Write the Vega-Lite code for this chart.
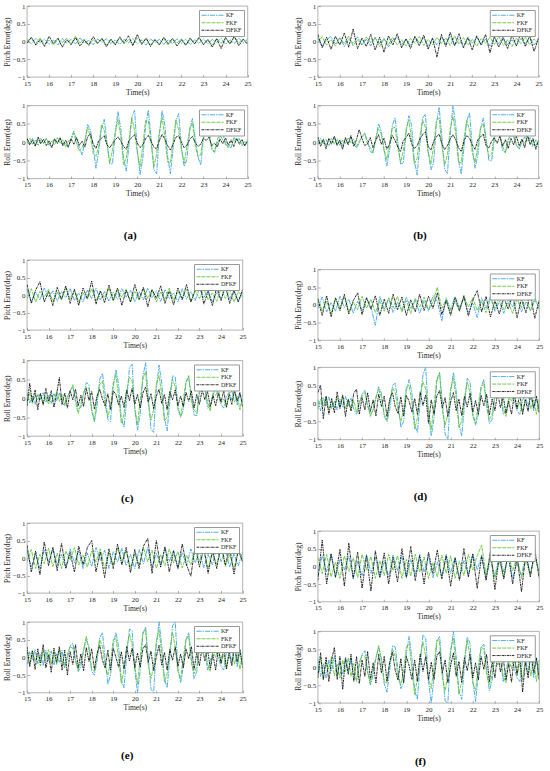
{
  "$schema": "https://vega.github.io/schema/vega-lite/v6.json",
  "background": "white",
  "padding": {"left": 3, "top": 1, "right": 2, "bottom": 2},
  "spacing": 41.8,
  "resolve": {"scale": {"color": "independent", "strokeDash": "independent"}},
  "hconcat": [
    {
      "spacing": 14,
      "resolve": {"scale": {"color": "independent", "strokeDash": "independent"}},
      "vconcat": [
        {
          "title": {"text": "(a)", "offset": 32.5, "dx": 3},
          "spacing": 4.5,
          "resolve": {"scale": {"color": "independent", "strokeDash": "independent"}},
          "vconcat": [
            {"width": 220.6, "height": 71, "data": {"name": "aP"}, "transform": [{"fold": ["k", "f", "d"], "as": ["s", "v"]}], "mark": {"type": "line", "clip": true},
             "encoding": {"x": {"field": "t", "type": "quantitative", "scale": {"domain": [15, 25]}, "title": "Time(s)"}, "y": {"field": "v", "type": "quantitative", "scale": {"domain": [-1, 1]}, "axis": {"format": "~g"}, "title": "Pitch Error(deg)"},
              "color": {"field": "s", "type": "nominal", "scale": {"domain": ["k", "f", "d"], "range": ["#3aa6e8", "#62c832", "#111111"]}, "legend": {"title": null, "labelExpr": "datum.label=='k'?'KF':datum.label=='f'?'FKF':'DFKF'"}},
              "strokeDash": {"field": "s", "type": "nominal", "scale": {"domain": ["k", "f", "d"], "range": [[5, 1, 1.5, 1], [4, 1], [2.5, 0.7, 1, 0.7]]}, "legend": {"title": null, "labelExpr": "datum.label=='k'?'KF':datum.label=='f'?'FKF':'DFKF'"}}}},
            {"width": 220.6, "height": 73, "data": {"name": "aR"}, "transform": [{"fold": ["k", "f", "d"], "as": ["s", "v"]}], "mark": {"type": "line", "clip": true},
             "encoding": {"x": {"field": "t", "type": "quantitative", "scale": {"domain": [15, 25]}, "title": "Time(s)"}, "y": {"field": "v", "type": "quantitative", "scale": {"domain": [-1, 1]}, "axis": {"format": "~g"}, "title": "Roll Error(deg)"},
              "color": {"field": "s", "type": "nominal", "scale": {"domain": ["k", "f", "d"], "range": ["#3aa6e8", "#62c832", "#111111"]}, "legend": {"title": null, "labelExpr": "datum.label=='k'?'KF':datum.label=='f'?'FKF':'DFKF'"}},
              "strokeDash": {"field": "s", "type": "nominal", "scale": {"domain": ["k", "f", "d"], "range": [[5, 1, 1.5, 1], [4, 1], [2.5, 0.7, 1, 0.7]]}, "legend": {"title": null, "labelExpr": "datum.label=='k'?'KF':datum.label=='f'?'FKF':'DFKF'"}}}}
          ]
        },
        {
          "title": {"text": "(c)", "offset": 38, "dx": 2.5},
          "spacing": 6.5,
          "resolve": {"scale": {"color": "independent", "strokeDash": "independent"}},
          "vconcat": [
            {"width": 215.6, "height": 70, "data": {"name": "cP"}, "transform": [{"fold": ["k", "f", "d"], "as": ["s", "v"]}], "mark": {"type": "line", "clip": true},
             "encoding": {"x": {"field": "t", "type": "quantitative", "scale": {"domain": [15, 25]}, "title": "Time(s)"}, "y": {"field": "v", "type": "quantitative", "scale": {"domain": [-1, 1]}, "axis": {"format": "~g"}, "title": "Pitch Error(deg)"},
              "color": {"field": "s", "type": "nominal", "scale": {"domain": ["k", "f", "d"], "range": ["#3aa6e8", "#62c832", "#111111"]}, "legend": {"title": null, "labelExpr": "datum.label=='k'?'KF':datum.label=='f'?'FKF':'DFKF'"}},
              "strokeDash": {"field": "s", "type": "nominal", "scale": {"domain": ["k", "f", "d"], "range": [[5, 1, 1.5, 1], [4, 1], [2.5, 0.7, 1, 0.7]]}, "legend": {"title": null, "labelExpr": "datum.label=='k'?'KF':datum.label=='f'?'FKF':'DFKF'"}}}},
            {"width": 215.6, "height": 75.6, "data": {"name": "cR"}, "transform": [{"fold": ["k", "f", "d"], "as": ["s", "v"]}], "mark": {"type": "line", "clip": true},
             "encoding": {"x": {"field": "t", "type": "quantitative", "scale": {"domain": [15, 25]}, "title": "Time(s)"}, "y": {"field": "v", "type": "quantitative", "scale": {"domain": [-1, 1]}, "axis": {"format": "~g"}, "title": "Roll Error(deg)"},
              "color": {"field": "s", "type": "nominal", "scale": {"domain": ["k", "f", "d"], "range": ["#3aa6e8", "#62c832", "#111111"]}, "legend": {"title": null, "labelExpr": "datum.label=='k'?'KF':datum.label=='f'?'FKF':'DFKF'"}},
              "strokeDash": {"field": "s", "type": "nominal", "scale": {"domain": ["k", "f", "d"], "range": [[5, 1, 1.5, 1], [4, 1], [2.5, 0.7, 1, 0.7]]}, "legend": {"title": null, "labelExpr": "datum.label=='k'?'KF':datum.label=='f'?'FKF':'DFKF'"}}}}
          ]
        },
        {
          "title": {"text": "(e)", "offset": 38, "dx": 2.5},
          "spacing": 5,
          "resolve": {"scale": {"color": "independent", "strokeDash": "independent"}},
          "vconcat": [
            {"width": 215.6, "height": 70, "data": {"name": "eP"}, "transform": [{"fold": ["k", "f", "d"], "as": ["s", "v"]}], "mark": {"type": "line", "clip": true},
             "encoding": {"x": {"field": "t", "type": "quantitative", "scale": {"domain": [15, 25]}, "title": "Time(s)"}, "y": {"field": "v", "type": "quantitative", "scale": {"domain": [-1, 1]}, "axis": {"format": "~g"}, "title": "Pitch Error(deg)"},
              "color": {"field": "s", "type": "nominal", "scale": {"domain": ["k", "f", "d"], "range": ["#3aa6e8", "#62c832", "#111111"]}, "legend": {"title": null, "labelExpr": "datum.label=='k'?'KF':datum.label=='f'?'FKF':'DFKF'"}},
              "strokeDash": {"field": "s", "type": "nominal", "scale": {"domain": ["k", "f", "d"], "range": [[5, 1, 1.5, 1], [4, 1], [2.5, 0.7, 1, 0.7]]}, "legend": {"title": null, "labelExpr": "datum.label=='k'?'KF':datum.label=='f'?'FKF':'DFKF'"}}}},
            {"width": 215.6, "height": 70.7, "data": {"name": "eR"}, "transform": [{"fold": ["k", "f", "d"], "as": ["s", "v"]}], "mark": {"type": "line", "clip": true},
             "encoding": {"x": {"field": "t", "type": "quantitative", "scale": {"domain": [15, 25]}, "title": "Time(s)"}, "y": {"field": "v", "type": "quantitative", "scale": {"domain": [-1, 1]}, "axis": {"format": "~g"}, "title": "Roll Error(deg)"},
              "color": {"field": "s", "type": "nominal", "scale": {"domain": ["k", "f", "d"], "range": ["#3aa6e8", "#62c832", "#111111"]}, "legend": {"title": null, "labelExpr": "datum.label=='k'?'KF':datum.label=='f'?'FKF':'DFKF'"}},
              "strokeDash": {"field": "s", "type": "nominal", "scale": {"domain": ["k", "f", "d"], "range": [[5, 1, 1.5, 1], [4, 1], [2.5, 0.7, 1, 0.7]]}, "legend": {"title": null, "labelExpr": "datum.label=='k'?'KF':datum.label=='f'?'FKF':'DFKF'"}}}}
          ]
        }
      ]
    },
    {
      "spacing": 23.5,
      "resolve": {"scale": {"color": "independent", "strokeDash": "independent"}},
      "vconcat": [
        {
          "title": {"text": "(b)", "offset": 32.5, "dx": 2},
          "spacing": 4.5,
          "resolve": {"scale": {"color": "independent", "strokeDash": "independent"}},
          "vconcat": [
            {"width": 220.7, "height": 71, "data": {"name": "bP"}, "transform": [{"fold": ["k", "f", "d"], "as": ["s", "v"]}], "mark": {"type": "line", "clip": true},
             "encoding": {"x": {"field": "t", "type": "quantitative", "scale": {"domain": [15, 25]}, "title": "Time(s)"}, "y": {"field": "v", "type": "quantitative", "scale": {"domain": [-1, 1]}, "axis": {"format": "~g"}, "title": "Pitch Error(deg)"},
              "color": {"field": "s", "type": "nominal", "scale": {"domain": ["k", "f", "d"], "range": ["#3aa6e8", "#62c832", "#111111"]}, "legend": {"title": null, "labelExpr": "datum.label=='k'?'KF':datum.label=='f'?'FKF':'DFKF'"}},
              "strokeDash": {"field": "s", "type": "nominal", "scale": {"domain": ["k", "f", "d"], "range": [[5, 1, 1.5, 1], [4, 1], [2.5, 0.7, 1, 0.7]]}, "legend": {"title": null, "labelExpr": "datum.label=='k'?'KF':datum.label=='f'?'FKF':'DFKF'"}}}},
            {"width": 220.7, "height": 73, "data": {"name": "bR"}, "transform": [{"fold": ["k", "f", "d"], "as": ["s", "v"]}], "mark": {"type": "line", "clip": true},
             "encoding": {"x": {"field": "t", "type": "quantitative", "scale": {"domain": [15, 25]}, "title": "Time(s)"}, "y": {"field": "v", "type": "quantitative", "scale": {"domain": [-1, 1]}, "axis": {"format": "~g"}, "title": "Roll Error(deg)"},
              "color": {"field": "s", "type": "nominal", "scale": {"domain": ["k", "f", "d"], "range": ["#3aa6e8", "#62c832", "#111111"]}, "legend": {"title": null, "labelExpr": "datum.label=='k'?'KF':datum.label=='f'?'FKF':'DFKF'"}},
              "strokeDash": {"field": "s", "type": "nominal", "scale": {"domain": ["k", "f", "d"], "range": [[5, 1, 1.5, 1], [4, 1], [2.5, 0.7, 1, 0.7]]}, "legend": {"title": null, "labelExpr": "datum.label=='k'?'KF':datum.label=='f'?'FKF':'DFKF'"}}}}
          ]
        },
        {
          "title": {"text": "(d)", "offset": 33, "dx": 2},
          "spacing": 2.8,
          "resolve": {"scale": {"color": "independent", "strokeDash": "independent"}},
          "vconcat": [
            {"width": 221.4, "height": 70.7, "data": {"name": "dP"}, "transform": [{"fold": ["k", "f", "d"], "as": ["s", "v"]}], "mark": {"type": "line", "clip": true},
             "encoding": {"x": {"field": "t", "type": "quantitative", "scale": {"domain": [15, 25]}, "title": "Time(s)"}, "y": {"field": "v", "type": "quantitative", "scale": {"domain": [-1, 1]}, "axis": {"format": "~g"}, "title": "Pitch Error(deg)"},
              "color": {"field": "s", "type": "nominal", "scale": {"domain": ["k", "f", "d"], "range": ["#3aa6e8", "#62c832", "#111111"]}, "legend": {"title": null, "labelExpr": "datum.label=='k'?'KF':datum.label=='f'?'FKF':'DFKF'"}},
              "strokeDash": {"field": "s", "type": "nominal", "scale": {"domain": ["k", "f", "d"], "range": [[5, 1, 1.5, 1], [4, 1], [2.5, 0.7, 1, 0.7]]}, "legend": {"title": null, "labelExpr": "datum.label=='k'?'KF':datum.label=='f'?'FKF':'DFKF'"}}}},
            {"width": 221.4, "height": 72.3, "data": {"name": "dR"}, "transform": [{"fold": ["k", "f", "d"], "as": ["s", "v"]}], "mark": {"type": "line", "clip": true},
             "encoding": {"x": {"field": "t", "type": "quantitative", "scale": {"domain": [15, 25]}, "title": "Time(s)"}, "y": {"field": "v", "type": "quantitative", "scale": {"domain": [-1, 1]}, "axis": {"format": "~g"}, "title": "Roll Error(deg)"},
              "color": {"field": "s", "type": "nominal", "scale": {"domain": ["k", "f", "d"], "range": ["#3aa6e8", "#62c832", "#111111"]}, "legend": {"title": null, "labelExpr": "datum.label=='k'?'KF':datum.label=='f'?'FKF':'DFKF'"}},
              "strokeDash": {"field": "s", "type": "nominal", "scale": {"domain": ["k", "f", "d"], "range": [[5, 1, 1.5, 1], [4, 1], [2.5, 0.7, 1, 0.7]]}, "legend": {"title": null, "labelExpr": "datum.label=='k'?'KF':datum.label=='f'?'FKF':'DFKF'"}}}}
          ]
        },
        {
          "title": {"text": "(f)", "offset": 34, "dx": 2},
          "spacing": 5.3,
          "resolve": {"scale": {"color": "independent", "strokeDash": "independent"}},
          "vconcat": [
            {"width": 221.4, "height": 70.7, "data": {"name": "fP"}, "transform": [{"fold": ["k", "f", "d"], "as": ["s", "v"]}], "mark": {"type": "line", "clip": true},
             "encoding": {"x": {"field": "t", "type": "quantitative", "scale": {"domain": [15, 25]}, "title": "Time(s)"}, "y": {"field": "v", "type": "quantitative", "scale": {"domain": [-1, 1]}, "axis": {"format": "~g"}, "title": "Pitch Error(deg)"},
              "color": {"field": "s", "type": "nominal", "scale": {"domain": ["k", "f", "d"], "range": ["#3aa6e8", "#62c832", "#111111"]}, "legend": {"title": null, "labelExpr": "datum.label=='k'?'KF':datum.label=='f'?'FKF':'DFKF'"}},
              "strokeDash": {"field": "s", "type": "nominal", "scale": {"domain": ["k", "f", "d"], "range": [[5, 1, 1.5, 1], [4, 1], [2.5, 0.7, 1, 0.7]]}, "legend": {"title": null, "labelExpr": "datum.label=='k'?'KF':datum.label=='f'?'FKF':'DFKF'"}}}},
            {"width": 221.4, "height": 71.7, "data": {"name": "fR"}, "transform": [{"fold": ["k", "f", "d"], "as": ["s", "v"]}], "mark": {"type": "line", "clip": true},
             "encoding": {"x": {"field": "t", "type": "quantitative", "scale": {"domain": [15, 25]}, "title": "Time(s)"}, "y": {"field": "v", "type": "quantitative", "scale": {"domain": [-1, 1]}, "axis": {"format": "~g"}, "title": "Roll Error(deg)"},
              "color": {"field": "s", "type": "nominal", "scale": {"domain": ["k", "f", "d"], "range": ["#3aa6e8", "#62c832", "#111111"]}, "legend": {"title": null, "labelExpr": "datum.label=='k'?'KF':datum.label=='f'?'FKF':'DFKF'"}},
              "strokeDash": {"field": "s", "type": "nominal", "scale": {"domain": ["k", "f", "d"], "range": [[5, 1, 1.5, 1], [4, 1], [2.5, 0.7, 1, 0.7]]}, "legend": {"title": null, "labelExpr": "datum.label=='k'?'KF':datum.label=='f'?'FKF':'DFKF'"}}}}
          ]
        }
      ]
    }
  ],
  "datasets": {
    "aP": [
      {"t":15,"k":0.05,"f":0.02,"d":-0.04},{"t":15.2,"k":-0.06,"f":0.08,"d":0.12},{"t":15.4,"k":0.09,"f":-0.05,"d":-0.1},{"t":15.6,"k":-0.03,"f":0.1,"d":0.06},{"t":15.8,"k":0.07,"f":-0.08,"d":-0.14},
      {"t":16,"k":-0.08,"f":0.04,"d":0.15},{"t":16.2,"k":0.04,"f":-0.1,"d":-0.06},{"t":16.4,"k":-0.1,"f":0.06,"d":0.1},{"t":16.6,"k":0.08,"f":-0.03,"d":-0.16},{"t":16.8,"k":-0.04,"f":0.09,"d":0.05},
      {"t":17,"k":0.06,"f":-0.07,"d":-0.09},{"t":17.2,"k":-0.07,"f":0.15,"d":0.11},{"t":17.4,"k":0.1,"f":-0.04,"d":-0.13},{"t":17.6,"k":-0.05,"f":0.07,"d":0.04},{"t":17.8,"k":0.03,"f":-0.09,"d":-0.11},
      {"t":18,"k":-0.09,"f":0.05,"d":0.14},{"t":18.2,"k":0.07,"f":-0.06,"d":-0.05},{"t":18.4,"k":-0.02,"f":0.08,"d":0.09},{"t":18.6,"k":0.08,"f":-0.1,"d":-0.15},{"t":18.8,"k":-0.06,"f":0.03,"d":0.07},
      {"t":19,"k":0.05,"f":-0.05,"d":-0.1},{"t":19.2,"k":-0.08,"f":0.09,"d":0.13},{"t":19.4,"k":0.06,"f":-0.07,"d":-0.04},{"t":19.6,"k":-0.04,"f":0.05,"d":0.16},{"t":19.8,"k":0.09,"f":-0.08,"d":-0.12},
      {"t":20,"k":-0.07,"f":0.1,"d":0.2},{"t":20.2,"k":0.04,"f":-0.04,"d":-0.08},{"t":20.4,"k":-0.1,"f":0.06,"d":0.1},{"t":20.6,"k":0.07,"f":-0.09,"d":-0.14},{"t":20.8,"k":-0.03,"f":0.04,"d":0.06},
      {"t":21,"k":0.06,"f":-0.06,"d":-0.1},{"t":21.2,"k":-0.08,"f":0.08,"d":0.12},{"t":21.4,"k":0.05,"f":-0.1,"d":-0.06},{"t":21.6,"k":-0.06,"f":0.05,"d":0.09},{"t":21.8,"k":0.08,"f":-0.04,"d":-0.13},
      {"t":22,"k":-0.04,"f":0.07,"d":0.05},{"t":22.2,"k":0.07,"f":-0.08,"d":-0.11},{"t":22.4,"k":-0.09,"f":0.06,"d":0.1},{"t":22.6,"k":0.05,"f":-0.05,"d":-0.07},{"t":22.8,"k":-0.05,"f":0.09,"d":0.12},
      {"t":23,"k":0.08,"f":-0.07,"d":-0.09},{"t":23.2,"k":-0.07,"f":0.04,"d":0.06},{"t":23.4,"k":0.06,"f":-0.1,"d":-0.16},{"t":23.6,"k":-0.03,"f":0.08,"d":0.08},{"t":23.8,"k":0.09,"f":-0.05,"d":-0.2},
      {"t":24,"k":-0.08,"f":0.1,"d":0.11},{"t":24.2,"k":0.05,"f":-0.06,"d":-0.07},{"t":24.4,"k":-0.06,"f":0.12,"d":0.15},{"t":24.6,"k":0.1,"f":-0.04,"d":-0.12},{"t":24.8,"k":-0.04,"f":0.07,"d":0.06},
      {"t":25,"k":0.06,"f":-0.05,"d":-0.08}
    ],
    "aR": [
      {"t":15,"k":0.08,"f":-0.03,"d":0.1},{"t":15.125,"k":-0.03,"f":0.1,"d":-0.08},{"t":15.25,"k":0.1,"f":-0.06,"d":0.05},{"t":15.375,"k":-0.08,"f":0.05,"d":-0.12},
      {"t":15.5,"k":0.04,"f":-0.09,"d":0.14},{"t":15.625,"k":0.1,"f":0.06,"d":-0.05},{"t":15.75,"k":-0.04,"f":-0.03,"d":0.08},{"t":15.875,"k":0.09,"f":0.1,"d":-0.1},
      {"t":16,"k":-0.09,"f":-0.06,"d":0.03},{"t":16.125,"k":0.01,"f":0.03,"d":-0.16},{"t":16.25,"k":0.08,"f":-0.08,"d":0.09},{"t":16.375,"k":-0.03,"f":0.12,"d":-0.04},
      {"t":16.5,"k":0.12,"f":-0.03,"d":0.11},{"t":16.625,"k":-0.09,"f":0.06,"d":-0.1},{"t":16.75,"k":-0.04,"f":-0.14,"d":0.05},{"t":16.875,"k":-0.15,"f":0.03,"d":-0.13},
      {"t":17,"k":0.13,"f":0.06,"d":0.08},{"t":17.125,"k":0.3,"f":0.24,"d":-0.06},{"t":17.25,"k":0.06,"f":-0.05,"d":0.12},{"t":17.375,"k":-0.17,"f":-0.25,"d":-0.09},
      {"t":17.5,"k":-0.36,"f":-0.15,"d":0.02},{"t":17.625,"k":0.04,"f":0.03,"d":-0.14},{"t":17.75,"k":0.48,"f":0.4,"d":0.15},{"t":17.875,"k":0.32,"f":0.15,"d":0.22},
      {"t":18,"k":-0.12,"f":-0.31,"d":-0.05},{"t":18.125,"k":-0.72,"f":-0.39,"d":-0.18},{"t":18.25,"k":-0.25,"f":-0.12,"d":0.04},{"t":18.375,"k":0.36,"f":0.48,"d":0.1},
      {"t":18.5,"k":0.62,"f":0.32,"d":0.17},{"t":18.625,"k":0,"f":-0.05,"d":-0.08},{"t":18.75,"k":-0.6,"f":-0.57,"d":-0.16},{"t":18.875,"k":-0.6,"f":-0.21,"d":-0.04},
      {"t":19,"k":0.24,"f":0.26,"d":0.06},{"t":19.125,"k":0.83,"f":0.62,"d":0.14},{"t":19.25,"k":0.37,"f":0.17,"d":0.03},{"t":19.375,"k":-0.42,"f":-0.62,"d":-0.12},
      {"t":19.5,"k":-0.8,"f":-0.44,"d":-0.2},{"t":19.625,"k":-0.08,"f":0.05,"d":0.05},{"t":19.75,"k":0.67,"f":0.66,"d":0.12},{"t":19.875,"k":0.87,"f":0.32,"d":0.2},
      {"t":20,"k":-0.23,"f":-0.29,"d":-0.03},{"t":20.125,"k":-0.9,"f":-0.68,"d":-0.15},{"t":20.25,"k":-0.44,"f":-0.11,"d":-0.08},{"t":20.375,"k":0.43,"f":0.59,"d":0.09},
      {"t":20.5,"k":0.87,"f":0.58,"d":0.18},{"t":20.625,"k":0.12,"f":-0.03,"d":0.02},{"t":20.75,"k":-0.75,"f":-0.67,"d":-0.14},{"t":20.875,"k":-0.87,"f":-0.34,"d":-0.19},
      {"t":21,"k":0.2,"f":0.26,"d":0.04},{"t":21.125,"k":0.86,"f":0.68,"d":0.21},{"t":21.25,"k":0.46,"f":0.12,"d":0.07},{"t":21.375,"k":-0.4,"f":-0.55,"d":-0.1},
      {"t":21.5,"k":-0.87,"f":-0.58,"d":-0.22},{"t":21.625,"k":-0.15,"f":0.01,"d":-0.05},{"t":21.75,"k":0.57,"f":0.61,"d":0.13},{"t":21.875,"k":0.78,"f":0.33,"d":0.17},
      {"t":22,"k":-0.14,"f":-0.2,"d":0},{"t":22.125,"k":-0.67,"f":-0.58,"d":-0.16},{"t":22.25,"k":-0.47,"f":-0.11,"d":-0.09},{"t":22.375,"k":0.36,"f":0.32,"d":0.07},
      {"t":22.5,"k":0.64,"f":0.53,"d":0.15},{"t":22.625,"k":0.12,"f":-0.08,"d":-0.02},{"t":22.75,"k":-0.41,"f":-0.4,"d":-0.12},{"t":22.875,"k":-0.63,"f":-0.35,"d":-0.06},
      {"t":23,"k":0.1,"f":0.19,"d":0.1},{"t":23.125,"k":0.35,"f":0.27,"d":0.04},{"t":23.25,"k":0.31,"f":0.18,"d":0.13},{"t":23.375,"k":-0.21,"f":-0.15,"d":-0.1},
      {"t":23.5,"k":-0.28,"f":-0.28,"d":-0.03},{"t":23.625,"k":-0.03,"f":0.06,"d":-0.14},{"t":23.75,"k":0.13,"f":0.22,"d":0.08},{"t":23.875,"k":0.27,"f":0.04,"d":-0.05},
      {"t":24,"k":-0.08,"f":0.02,"d":0.11},{"t":24.125,"k":-0.11,"f":-0.17,"d":-0.08},{"t":24.25,"k":-0.16,"f":0.02,"d":0.06},{"t":24.375,"k":0.12,"f":0,"d":-0.12},
      {"t":24.5,"k":0.06,"f":0.12,"d":0.09},{"t":24.625,"k":0.09,"f":-0.07,"d":-0.04},{"t":24.75,"k":-0.1,"f":-0.01,"d":0.07},{"t":24.875,"k":0.02,"f":-0.09,"d":-0.11},
      {"t":25,"k":-0.06,"f":0.07,"d":0.03}
    ],
    "bP": [
      {"t":15,"k":0.1,"f":-0.05,"d":0.2},{"t":15.2,"k":-0.12,"f":0.14,"d":-0.18},{"t":15.4,"k":0.05,"f":-0.1,"d":0.12},{"t":15.6,"k":0.14,"f":0.06,"d":-0.22},{"t":15.8,"k":-0.08,"f":-0.13,"d":0.15},
      {"t":16,"k":0.11,"f":0.1,"d":-0.1},{"t":16.2,"k":-0.14,"f":-0.06,"d":0.24},{"t":16.4,"k":0.07,"f":0.15,"d":-0.16},{"t":16.6,"k":-0.05,"f":-0.12,"d":0.35},{"t":16.8,"k":0.13,"f":0.05,"d":-0.2},
      {"t":17,"k":-0.1,"f":-0.09,"d":0.1},{"t":17.2,"k":0.06,"f":0.13,"d":-0.14},{"t":17.4,"k":-0.13,"f":-0.04,"d":0.2},{"t":17.6,"k":0.12,"f":0.1,"d":-0.24},{"t":17.8,"k":-0.06,"f":-0.14,"d":0.12},
      {"t":18,"k":0.09,"f":0.07,"d":-0.3},{"t":18.2,"k":-0.15,"f":-0.08,"d":0.16},{"t":18.4,"k":0.04,"f":0.12,"d":-0.1},{"t":18.6,"k":0.12,"f":-0.1,"d":0.22},{"t":18.8,"k":-0.09,"f":0.05,"d":-0.18},
      {"t":19,"k":0.06,"f":-0.13,"d":0.08},{"t":19.2,"k":-0.12,"f":0.09,"d":-0.2},{"t":19.4,"k":0.14,"f":-0.05,"d":0.14},{"t":19.6,"k":-0.04,"f":0.14,"d":-0.12},{"t":19.8,"k":0.1,"f":-0.11,"d":0.18},
      {"t":20,"k":-0.13,"f":0.06,"d":-0.22},{"t":20.2,"k":0.08,"f":-0.09,"d":0.1},{"t":20.4,"k":-0.1,"f":0.12,"d":-0.44},{"t":20.6,"k":0.13,"f":-0.06,"d":0.2},{"t":20.8,"k":-0.07,"f":0.1,"d":-0.14},
      {"t":21,"k":0.15,"f":-0.12,"d":0.26},{"t":21.2,"k":-0.11,"f":0.16,"d":-0.12},{"t":21.4,"k":0.06,"f":-0.07,"d":0.22},{"t":21.6,"k":-0.14,"f":0.11,"d":-0.18},{"t":21.8,"k":0.1,"f":-0.1,"d":0.12},
      {"t":22,"k":-0.05,"f":0.06,"d":-0.24},{"t":22.2,"k":0.12,"f":-0.13,"d":0.16},{"t":22.4,"k":-0.09,"f":0.09,"d":-0.1},{"t":22.6,"k":0.07,"f":-0.05,"d":0.2},{"t":22.8,"k":-0.13,"f":0.12,"d":-0.32},
      {"t":23,"k":0.11,"f":-0.08,"d":0.14},{"t":23.2,"k":-0.06,"f":0.14,"d":-0.16},{"t":23.4,"k":0.14,"f":-0.11,"d":0.1},{"t":23.6,"k":-0.1,"f":0.05,"d":-0.2},{"t":23.8,"k":0.05,"f":-0.14,"d":0.18},
      {"t":24,"k":-0.12,"f":0.1,"d":-0.12},{"t":24.2,"k":0.09,"f":-0.06,"d":0.24},{"t":24.4,"k":-0.07,"f":0.13,"d":-0.14},{"t":24.6,"k":0.13,"f":-0.09,"d":0.16},{"t":24.8,"k":-0.1,"f":0.07,"d":-0.28},
      {"t":25,"k":0.06,"f":-0.04,"d":0.1}
    ],
    "bR": [
      {"t":15,"k":-0.08,"f":0.06,"d":0.14},{"t":15.125,"k":0.1,"f":-0.05,"d":-0.12},{"t":15.25,"k":-0.04,"f":0.09,"d":0.06},{"t":15.375,"k":0.07,"f":-0.1,"d":-0.18},
      {"t":15.5,"k":-0.11,"f":0.04,"d":0.1},{"t":15.625,"k":0.05,"f":0.1,"d":-0.06},{"t":15.75,"k":0.12,"f":-0.06,"d":0.16},{"t":15.875,"k":-0.06,"f":0.08,"d":-0.1},
      {"t":16,"k":0.06,"f":-0.09,"d":0.04},{"t":16.125,"k":-0.1,"f":0.05,"d":-0.2},{"t":16.25,"k":0.08,"f":-0.04,"d":0.12},{"t":16.375,"k":-0.03,"f":0.11,"d":-0.08},
      {"t":16.5,"k":0.14,"f":-0.02,"d":0.18},{"t":16.625,"k":-0.05,"f":0.08,"d":-0.12},{"t":16.75,"k":-0.16,"f":-0.12,"d":0.06},{"t":16.875,"k":-0.04,"f":0.02,"d":0.34},
      {"t":17,"k":0.16,"f":0.14,"d":0.1},{"t":17.125,"k":0.22,"f":0.25,"d":-0.1},{"t":17.25,"k":0.05,"f":-0.06,"d":-0.05},{"t":17.375,"k":-0.26,"f":-0.15,"d":0.12},
      {"t":17.5,"k":-0.3,"f":-0.28,"d":-0.15},{"t":17.625,"k":0.06,"f":0.12,"d":0.04},{"t":17.75,"k":0.5,"f":0.36,"d":0.2},{"t":17.875,"k":0.3,"f":0.22,"d":-0.06},
      {"t":18,"k":-0.22,"f":-0.2,"d":0.1},{"t":18.125,"k":-0.66,"f":-0.48,"d":-0.2},{"t":18.25,"k":-0.24,"f":-0.02,"d":-0.06},{"t":18.375,"k":0.45,"f":0.38,"d":0.18},
      {"t":18.5,"k":0.66,"f":0.4,"d":0.05},{"t":18.625,"k":0.02,"f":-0.16,"d":-0.14},{"t":18.75,"k":-0.6,"f":-0.55,"d":-0.26},{"t":18.875,"k":-0.58,"f":-0.24,"d":0.04},
      {"t":19,"k":0.26,"f":0.35,"d":0.12},{"t":19.125,"k":0.72,"f":0.6,"d":0.24},{"t":19.25,"k":0.46,"f":0.06,"d":-0.04},{"t":19.375,"k":-0.52,"f":-0.6,"d":-0.18},
      {"t":19.5,"k":-0.9,"f":-0.45,"d":-0.1},{"t":19.625,"k":-0.08,"f":0.16,"d":0.08},{"t":19.75,"k":0.66,"f":0.6,"d":0.2},{"t":19.875,"k":0.76,"f":0.4,"d":0.28},
      {"t":20,"k":-0.24,"f":-0.3,"d":-0.12},{"t":20.125,"k":-0.76,"f":-0.6,"d":-0.22},{"t":20.25,"k":-0.55,"f":-0.1,"d":0.02},{"t":20.375,"k":0.52,"f":0.58,"d":0.14},
      {"t":20.5,"k":0.95,"f":0.66,"d":0.22},{"t":20.625,"k":0.12,"f":-0.12,"d":-0.06},{"t":20.75,"k":-0.75,"f":-0.62,"d":-0.2},{"t":20.875,"k":-0.86,"f":-0.35,"d":-0.1},
      {"t":21,"k":0.2,"f":0.36,"d":0.08},{"t":21.125,"k":1,"f":0.7,"d":0.2},{"t":21.25,"k":0.45,"f":0.24,"d":0.06},{"t":21.375,"k":-0.5,"f":-0.55,"d":-0.16},
      {"t":21.5,"k":-0.88,"f":-0.58,"d":-0.26},{"t":21.625,"k":-0.14,"f":0.1,"d":0.04},{"t":21.75,"k":0.58,"f":0.6,"d":0.18},{"t":21.875,"k":0.8,"f":0.32,"d":0.1},
      {"t":22,"k":-0.12,"f":-0.3,"d":-0.08},{"t":22.125,"k":-0.72,"f":-0.56,"d":-0.2},{"t":22.25,"k":-0.36,"f":-0.12,"d":0.06},{"t":22.375,"k":0.36,"f":0.4,"d":0.14},
      {"t":22.5,"k":0.66,"f":0.5,"d":0.22},{"t":22.625,"k":0.1,"f":0.02,"d":-0.1},{"t":22.75,"k":-0.5,"f":-0.4,"d":-0.16},{"t":22.875,"k":-0.52,"f":-0.34,"d":0.02},
      {"t":23,"k":0.08,"f":0.2,"d":0.12},{"t":23.125,"k":0.42,"f":0.26,"d":-0.04},{"t":23.25,"k":0.2,"f":0.16,"d":0.16},{"t":23.375,"k":-0.24,"f":-0.12,"d":-0.12},
      {"t":23.5,"k":-0.28,"f":-0.3,"d":0.06},{"t":23.625,"k":0.02,"f":0.08,"d":-0.18},{"t":23.75,"k":0.24,"f":0.16,"d":0.1},{"t":23.875,"k":0.14,"f":0.2,"d":-0.08},
      {"t":24,"k":-0.1,"f":-0.08,"d":0.16},{"t":24.125,"k":-0.2,"f":-0.16,"d":-0.1},{"t":24.25,"k":0,"f":0.06,"d":0.08},{"t":24.375,"k":0.14,"f":-0.04,"d":-0.16},
      {"t":24.5,"k":0.02,"f":0.14,"d":0.2},{"t":24.625,"k":0.12,"f":-0.08,"d":-0.06},{"t":24.75,"k":-0.12,"f":0.04,"d":0.1},{"t":24.875,"k":0.06,"f":-0.12,"d":-0.2},
      {"t":25,"k":-0.08,"f":0.06,"d":0.04}
    ],
    "cP": [
      {"t":15,"k":0.16,"f":-0.12,"d":0.3},{"t":15.2,"k":-0.2,"f":0.18,"d":-0.24},{"t":15.4,"k":0.08,"f":-0.2,"d":0.14},{"t":15.6,"k":-0.14,"f":0.1,"d":0.38},{"t":15.8,"k":0.2,"f":-0.06,"d":-0.2},
      {"t":16,"k":-0.06,"f":0.16,"d":0.1},{"t":16.2,"k":0.12,"f":-0.18,"d":-0.3},{"t":16.4,"k":-0.18,"f":0.08,"d":0.22},{"t":16.6,"k":0.1,"f":-0.14,"d":-0.12},{"t":16.8,"k":-0.08,"f":0.2,"d":0.26},
      {"t":17,"k":0.18,"f":-0.1,"d":-0.24},{"t":17.2,"k":-0.16,"f":0.14,"d":0.16},{"t":17.4,"k":0.06,"f":-0.2,"d":-0.3},{"t":17.6,"k":-0.2,"f":0.06,"d":0.2},{"t":17.8,"k":0.14,"f":-0.12,"d":-0.1},
      {"t":18,"k":-0.1,"f":0.18,"d":0.4},{"t":18.2,"k":0.2,"f":-0.16,"d":-0.26},{"t":18.4,"k":-0.14,"f":0.1,"d":0.12},{"t":18.6,"k":0.1,"f":-0.08,"d":-0.22},{"t":18.8,"k":-0.18,"f":0.2,"d":0.28},
      {"t":19,"k":0.08,"f":-0.18,"d":-0.14},{"t":19.2,"k":-0.12,"f":0.12,"d":0.2},{"t":19.4,"k":0.18,"f":-0.06,"d":-0.3},{"t":19.6,"k":-0.06,"f":0.16,"d":0.14},{"t":19.8,"k":0.14,"f":-0.2,"d":-0.2},
      {"t":20,"k":-0.2,"f":0.1,"d":0.3},{"t":20.2,"k":0.1,"f":-0.14,"d":-0.12},{"t":20.4,"k":-0.14,"f":0.18,"d":0.22},{"t":20.6,"k":0.2,"f":-0.1,"d":-0.34},{"t":20.8,"k":-0.08,"f":0.14,"d":0.16},
      {"t":21,"k":0.12,"f":-0.2,"d":-0.1},{"t":21.2,"k":-0.18,"f":0.08,"d":0.26},{"t":21.4,"k":0.16,"f":-0.12,"d":-0.24},{"t":21.6,"k":-0.1,"f":0.2,"d":0.12},{"t":21.8,"k":0.06,"f":-0.16,"d":-0.28},
      {"t":22,"k":-0.2,"f":0.1,"d":0.2},{"t":22.2,"k":0.18,"f":-0.08,"d":-0.14},{"t":22.4,"k":-0.12,"f":0.16,"d":0.3},{"t":22.6,"k":0.1,"f":-0.2,"d":-0.2},{"t":22.8,"k":-0.16,"f":0.12,"d":0.14},
      {"t":23,"k":0.2,"f":-0.1,"d":0.36},{"t":23.2,"k":-0.08,"f":0.18,"d":-0.26},{"t":23.4,"k":0.14,"f":-0.14,"d":0.1},{"t":23.6,"k":-0.2,"f":0.06,"d":-0.3},{"t":23.8,"k":0.08,"f":-0.18,"d":0.22},
      {"t":24,"k":-0.12,"f":0.2,"d":-0.16},{"t":24.2,"k":0.18,"f":-0.1,"d":0.28},{"t":24.4,"k":-0.1,"f":0.14,"d":-0.24},{"t":24.6,"k":0.12,"f":-0.2,"d":0.12},{"t":24.8,"k":-0.18,"f":0.1,"d":-0.2},
      {"t":25,"k":0.1,"f":-0.06,"d":0.16}
    ],
    "cR": [
      {"t":15,"k":0.14,"f":-0.1,"d":-0.2},{"t":15.125,"k":-0.12,"f":0.16,"d":0.4},{"t":15.25,"k":0.06,"f":-0.14,"d":-0.1},{"t":15.375,"k":-0.16,"f":0.08,"d":0.22},
      {"t":15.5,"k":0.1,"f":-0.04,"d":-0.3},{"t":15.625,"k":-0.04,"f":0.14,"d":0.12},{"t":15.75,"k":0.16,"f":-0.12,"d":-0.18},{"t":15.875,"k":-0.1,"f":0.06,"d":0.26},
      {"t":16,"k":0.08,"f":-0.16,"d":-0.08},{"t":16.125,"k":-0.14,"f":0.1,"d":0.2},{"t":16.25,"k":0.12,"f":-0.06,"d":-0.24},{"t":16.375,"k":-0.06,"f":0.18,"d":0.1},
      {"t":16.5,"k":0.14,"f":-0.08,"d":0.55},{"t":16.625,"k":-0.12,"f":0.1,"d":-0.16},{"t":16.75,"k":-0.2,"f":-0.18,"d":0.14},{"t":16.875,"k":0.02,"f":0.06,"d":-0.26},
      {"t":17,"k":0.2,"f":0.18,"d":0.2},{"t":17.125,"k":0.3,"f":0.36,"d":-0.04},{"t":17.25,"k":0,"f":-0.1,"d":0.24},{"t":17.375,"k":-0.3,"f":-0.4,"d":-0.2},
      {"t":17.5,"k":-0.24,"f":-0.14,"d":0.08},{"t":17.625,"k":0.1,"f":0.16,"d":-0.22},{"t":17.75,"k":0.42,"f":0.3,"d":0.26},{"t":17.875,"k":0.36,"f":0.26,"d":-0.06},
      {"t":18,"k":-0.26,"f":-0.36,"d":0.18},{"t":18.125,"k":-0.62,"f":-0.6,"d":-0.28},{"t":18.25,"k":-0.2,"f":0.04,"d":0.06},{"t":18.375,"k":0.5,"f":0.36,"d":0.24},
      {"t":18.5,"k":0.66,"f":0.46,"d":-0.02},{"t":18.625,"k":0.12,"f":-0.2,"d":-0.2},{"t":18.75,"k":-0.56,"f":-0.5,"d":0.12},{"t":18.875,"k":-0.62,"f":-0.2,"d":-0.3},
      {"t":19,"k":0.3,"f":0.4,"d":0.2},{"t":19.125,"k":0.76,"f":0.62,"d":0.1},{"t":19.25,"k":0.36,"f":0.04,"d":-0.18},{"t":19.375,"k":-0.54,"f":-0.66,"d":0.06},
      {"t":19.5,"k":-0.76,"f":-0.42,"d":-0.24},{"t":19.625,"k":-0.04,"f":0.2,"d":0.22},{"t":19.75,"k":0.8,"f":0.56,"d":-0.06},{"t":19.875,"k":0.9,"f":0.46,"d":0.26},
      {"t":20,"k":-0.3,"f":-0.24,"d":-0.16},{"t":20.125,"k":-0.84,"f":-0.7,"d":0.1},{"t":20.25,"k":-0.42,"f":-0.06,"d":-0.26},{"t":20.375,"k":0.58,"f":0.52,"d":0.14},
      {"t":20.5,"k":0.94,"f":0.7,"d":0.3},{"t":20.625,"k":0.06,"f":-0.16,"d":-0.1},{"t":20.75,"k":-0.82,"f":-0.58,"d":0.12},{"t":20.875,"k":-0.9,"f":-0.3,"d":-0.28},
      {"t":21,"k":0.26,"f":0.38,"d":0.06},{"t":21.125,"k":0.88,"f":0.6,"d":0.24},{"t":21.25,"k":0.4,"f":0.1,"d":-0.14},{"t":21.375,"k":-0.52,"f":-0.6,"d":0.1},
      {"t":21.5,"k":-0.86,"f":-0.5,"d":-0.3},{"t":21.625,"k":-0.1,"f":0.12,"d":0.18},{"t":21.75,"k":0.6,"f":0.5,"d":-0.04},{"t":21.875,"k":0.56,"f":0.3,"d":0.22},
      {"t":22,"k":-0.2,"f":-0.3,"d":-0.2},{"t":22.125,"k":-0.5,"f":-0.48,"d":0.06},{"t":22.25,"k":-0.3,"f":-0.04,"d":-0.22},{"t":22.375,"k":0.42,"f":0.44,"d":0.16},
      {"t":22.5,"k":0.56,"f":0.6,"d":-0.08},{"t":22.625,"k":0.06,"f":-0.1,"d":0.2},{"t":22.75,"k":-0.44,"f":-0.3,"d":-0.26},{"t":22.875,"k":-0.46,"f":-0.4,"d":0.1},
      {"t":23,"k":0.14,"f":0.24,"d":-0.16},{"t":23.125,"k":0.3,"f":0.2,"d":0.22},{"t":23.25,"k":0.34,"f":0.24,"d":-0.04},{"t":23.375,"k":-0.26,"f":-0.1,"d":0.18},
      {"t":23.5,"k":-0.2,"f":-0.34,"d":-0.22},{"t":23.625,"k":0.06,"f":0.14,"d":0.08},{"t":23.75,"k":0.3,"f":0.08,"d":-0.2},{"t":23.875,"k":0.08,"f":0.24,"d":0.14},
      {"t":24,"k":-0.16,"f":-0.12,"d":-0.1},{"t":24.125,"k":-0.26,"f":-0.02,"d":0.2},{"t":24.25,"k":0.04,"f":-0.2,"d":-0.24},{"t":24.375,"k":0.16,"f":0.12,"d":0.1},
      {"t":24.5,"k":-0.04,"f":0.2,"d":-0.16},{"t":24.625,"k":0.2,"f":-0.1,"d":0.22},{"t":24.75,"k":-0.18,"f":0.06,"d":-0.08},{"t":24.875,"k":0.1,"f":-0.3,"d":0.16},
      {"t":25,"k":-0.12,"f":0.1,"d":-0.22}
    ],
    "dP": [
      {"t":15,"k":-0.1,"f":0.2,"d":0.16},{"t":15.2,"k":0.22,"f":-0.16,"d":-0.3},{"t":15.4,"k":-0.2,"f":0.1,"d":0.26},{"t":15.6,"k":0.06,"f":-0.24,"d":-0.34},{"t":15.8,"k":-0.18,"f":0.18,"d":0.2},
      {"t":16,"k":0.24,"f":-0.06,"d":-0.16},{"t":16.2,"k":-0.08,"f":0.22,"d":0.3},{"t":16.4,"k":0.16,"f":-0.2,"d":-0.26},{"t":16.6,"k":-0.24,"f":0.08,"d":0.12},{"t":16.8,"k":0.1,"f":-0.14,"d":0.34},
      {"t":17,"k":-0.16,"f":0.24,"d":-0.28},{"t":17.2,"k":0.2,"f":-0.1,"d":0.2},{"t":17.4,"k":-0.06,"f":0.16,"d":-0.12},{"t":17.6,"k":-0.58,"f":-0.22,"d":0.26},{"t":17.8,"k":0.24,"f":0.1,"d":-0.3},
      {"t":18,"k":-0.12,"f":-0.18,"d":0.16},{"t":18.2,"k":0.18,"f":0.2,"d":-0.24},{"t":18.4,"k":-0.22,"f":-0.08,"d":0.3},{"t":18.6,"k":0.08,"f":0.24,"d":-0.14},{"t":18.8,"k":-0.16,"f":-0.2,"d":0.22},
      {"t":19,"k":0.22,"f":0.12,"d":-0.3},{"t":19.2,"k":-0.1,"f":-0.24,"d":0.14},{"t":19.4,"k":0.14,"f":0.18,"d":-0.2},{"t":19.6,"k":-0.24,"f":-0.06,"d":0.3},{"t":19.8,"k":0.12,"f":0.22,"d":-0.16},
      {"t":20,"k":-0.18,"f":-0.14,"d":0.24},{"t":20.2,"k":0.26,"f":0.08,"d":-0.1},{"t":20.4,"k":0.1,"f":0.5,"d":0.34},{"t":20.6,"k":-0.46,"f":-0.1,"d":-0.28},{"t":20.8,"k":0.2,"f":0.16,"d":0.12},
      {"t":21,"k":-0.14,"f":-0.22,"d":-0.3},{"t":21.2,"k":0.24,"f":0.1,"d":0.2},{"t":21.4,"k":-0.08,"f":-0.18,"d":-0.16},{"t":21.6,"k":0.18,"f":0.24,"d":0.26},{"t":21.8,"k":-0.22,"f":-0.06,"d":-0.32},
      {"t":22,"k":0.06,"f":0.2,"d":0.14},{"t":22.2,"k":-0.36,"f":-0.16,"d":0.4},{"t":22.4,"k":0.2,"f":0.1,"d":-0.2},{"t":22.6,"k":-0.1,"f":-0.22,"d":0.24},{"t":22.8,"k":0.24,"f":0.18,"d":-0.34},
      {"t":23,"k":-0.18,"f":-0.1,"d":0.12},{"t":23.2,"k":0.1,"f":0.22,"d":-0.26},{"t":23.4,"k":-0.24,"f":-0.14,"d":0.2},{"t":23.6,"k":0.16,"f":0.06,"d":-0.12},{"t":23.8,"k":-0.06,"f":-0.24,"d":0.28},
      {"t":24,"k":0.22,"f":0.16,"d":-0.36},{"t":24.2,"k":-0.2,"f":-0.08,"d":0.18},{"t":24.4,"k":0.08,"f":0.24,"d":-0.22},{"t":24.6,"k":-0.14,"f":-0.18,"d":0.3},{"t":24.8,"k":0.2,"f":0.12,"d":-0.38},
      {"t":25,"k":-0.12,"f":-0.06,"d":0.14}
    ],
    "dR": [
      {"t":15,"k":0.1,"f":-0.16,"d":0.3},{"t":15.125,"k":-0.2,"f":0.12,"d":0.5},{"t":15.25,"k":0.16,"f":-0.08,"d":-0.42},{"t":15.375,"k":-0.08,"f":0.2,"d":0.2},
      {"t":15.5,"k":0.18,"f":-0.18,"d":-0.3},{"t":15.625,"k":-0.14,"f":0.06,"d":0.14},{"t":15.75,"k":0.06,"f":-0.12,"d":-0.26},{"t":15.875,"k":-0.18,"f":0.16,"d":0.32},
      {"t":16,"k":0.12,"f":-0.04,"d":-0.14},{"t":16.125,"k":-0.1,"f":0.18,"d":0.24},{"t":16.25,"k":0.2,"f":-0.14,"d":-0.36},{"t":16.375,"k":-0.06,"f":0.1,"d":0.12},
      {"t":16.5,"k":0.14,"f":-0.2,"d":-0.2},{"t":16.625,"k":-0.16,"f":0.08,"d":0.28},{"t":16.75,"k":-0.3,"f":-0.24,"d":0.4},{"t":16.875,"k":0,"f":0.04,"d":-0.3},
      {"t":17,"k":0.26,"f":0.2,"d":0.16},{"t":17.125,"k":0.36,"f":0.3,"d":-0.18},{"t":17.25,"k":-0.04,"f":-0.06,"d":0.3},{"t":17.375,"k":-0.3,"f":-0.36,"d":-0.22},
      {"t":17.5,"k":-0.2,"f":-0.16,"d":0.1},{"t":17.625,"k":0.14,"f":0.18,"d":-0.34},{"t":17.75,"k":0.46,"f":0.4,"d":0.26},{"t":17.875,"k":0.28,"f":0.16,"d":-0.08},
      {"t":18,"k":-0.36,"f":-0.3,"d":0.2},{"t":18.125,"k":-0.5,"f":-0.46,"d":-0.36},{"t":18.25,"k":-0.16,"f":0.08,"d":0.12},{"t":18.375,"k":0.5,"f":0.44,"d":0.3},
      {"t":18.5,"k":0.56,"f":0.3,"d":-0.1},{"t":18.625,"k":0,"f":-0.2,"d":-0.28},{"t":18.75,"k":-0.66,"f":-0.5,"d":0.18},{"t":18.875,"k":-0.5,"f":-0.16,"d":-0.34},
      {"t":19,"k":0.36,"f":0.46,"d":0.22},{"t":19.125,"k":0.66,"f":0.5,"d":0.06},{"t":19.25,"k":0.3,"f":0.02,"d":-0.24},{"t":19.375,"k":-0.6,"f":-0.7,"d":0.14},
      {"t":19.5,"k":-0.8,"f":-0.4,"d":-0.3},{"t":19.625,"k":0.04,"f":0.2,"d":0.32},{"t":19.75,"k":0.8,"f":0.6,"d":-0.06},{"t":19.875,"k":1,"f":0.4,"d":0.24},
      {"t":20,"k":-0.3,"f":-0.2,"d":-0.55},{"t":20.125,"k":-0.9,"f":-0.72,"d":0.1},{"t":20.25,"k":-0.4,"f":-0.04,"d":-0.3},{"t":20.375,"k":0.62,"f":0.66,"d":0.2},
      {"t":20.5,"k":0.84,"f":0.86,"d":0.36},{"t":20.625,"k":0.04,"f":-0.2,"d":-0.12},{"t":20.75,"k":-0.84,"f":-0.6,"d":0.16},{"t":20.875,"k":-1,"f":-0.3,"d":-0.36},
      {"t":21,"k":0.3,"f":0.42,"d":0.04},{"t":21.125,"k":0.86,"f":0.7,"d":0.3},{"t":21.25,"k":0.36,"f":0.14,"d":-0.2},{"t":21.375,"k":-0.56,"f":-0.66,"d":0.12},
      {"t":21.5,"k":-0.9,"f":-0.5,"d":-0.34},{"t":21.625,"k":-0.06,"f":0.16,"d":0.2},{"t":21.75,"k":0.7,"f":0.6,"d":-0.1},{"t":21.875,"k":0.6,"f":0.3,"d":0.28},
      {"t":22,"k":-0.24,"f":-0.36,"d":-0.24},{"t":22.125,"k":-0.6,"f":-0.56,"d":0.08},{"t":22.25,"k":-0.3,"f":-0.04,"d":-0.3},{"t":22.375,"k":0.44,"f":0.46,"d":0.22},
      {"t":22.5,"k":0.66,"f":0.56,"d":-0.06},{"t":22.625,"k":0.04,"f":-0.12,"d":0.26},{"t":22.75,"k":-0.56,"f":-0.44,"d":-0.32},{"t":22.875,"k":-0.44,"f":-0.3,"d":0.12},
      {"t":23,"k":0.2,"f":0.26,"d":-0.2},{"t":23.125,"k":0.3,"f":0.16,"d":0.3},{"t":23.25,"k":0.36,"f":0.3,"d":-0.12},{"t":23.375,"k":-0.3,"f":-0.14,"d":0.2},
      {"t":23.5,"k":-0.16,"f":-0.36,"d":-0.28},{"t":23.625,"k":0.1,"f":0.16,"d":0.06},{"t":23.75,"k":0.3,"f":0.06,"d":-0.3},{"t":23.875,"k":0.06,"f":0.3,"d":0.24},
      {"t":24,"k":-0.2,"f":-0.16,"d":-0.14},{"t":24.125,"k":-0.3,"f":0.04,"d":0.28},{"t":24.25,"k":0.1,"f":-0.26,"d":-0.3},{"t":24.375,"k":0.2,"f":0.16,"d":0.1},
      {"t":24.5,"k":-0.1,"f":0.24,"d":-0.22},{"t":24.625,"k":0.26,"f":-0.14,"d":0.3},{"t":24.75,"k":-0.2,"f":0.1,"d":-0.12},{"t":24.875,"k":0.14,"f":-0.3,"d":0.2},
      {"t":25,"k":-0.16,"f":0.12,"d":-0.26}
    ],
    "eP": [
      {"t":15,"k":0.2,"f":-0.1,"d":0.36},{"t":15.2,"k":-0.26,"f":0.24,"d":-0.4},{"t":15.4,"k":0.12,"f":-0.3,"d":0.2},{"t":15.6,"k":-0.3,"f":0.1,"d":-0.48},{"t":15.8,"k":0.24,"f":-0.16,"d":0.46},
      {"t":16,"k":-0.1,"f":0.28,"d":-0.22},{"t":16.2,"k":0.28,"f":-0.24,"d":0.3},{"t":16.4,"k":-0.2,"f":0.14,"d":-0.36},{"t":16.6,"k":0.1,"f":-0.3,"d":0.42},{"t":16.8,"k":-0.28,"f":0.2,"d":-0.3},
      {"t":17,"k":0.26,"f":-0.06,"d":0.16},{"t":17.2,"k":-0.14,"f":0.3,"d":-0.4},{"t":17.4,"k":0.2,"f":-0.2,"d":0.34},{"t":17.6,"k":-0.3,"f":0.08,"d":-0.2},{"t":17.8,"k":0.14,"f":-0.26,"d":0.3},
      {"t":18,"k":-0.24,"f":0.2,"d":0.5},{"t":18.2,"k":0.3,"f":-0.12,"d":-0.4},{"t":18.4,"k":-0.08,"f":0.26,"d":0.18},{"t":18.6,"k":0.22,"f":-0.3,"d":-0.56},{"t":18.8,"k":-0.3,"f":0.14,"d":0.26},
      {"t":19,"k":0.18,"f":-0.2,"d":-0.3},{"t":19.2,"k":-0.12,"f":0.28,"d":0.4},{"t":19.4,"k":0.28,"f":-0.08,"d":-0.2},{"t":19.6,"k":-0.22,"f":0.2,"d":0.3},{"t":19.8,"k":0.1,"f":-0.28,"d":-0.42},
      {"t":20,"k":-0.3,"f":0.12,"d":0.24},{"t":20.2,"k":0.24,"f":-0.2,"d":-0.3},{"t":20.4,"k":-0.16,"f":0.3,"d":0.34},{"t":20.6,"k":0.3,"f":-0.1,"d":0.56},{"t":20.8,"k":-0.26,"f":0.22,"d":-0.44},
      {"t":21,"k":0.14,"f":-0.3,"d":0.5},{"t":21.2,"k":-0.2,"f":0.1,"d":-0.26},{"t":21.4,"k":0.28,"f":-0.22,"d":0.32},{"t":21.6,"k":-0.1,"f":0.26,"d":-0.4},{"t":21.8,"k":0.22,"f":-0.14,"d":0.2},
      {"t":22,"k":-0.3,"f":0.18,"d":-0.3},{"t":22.2,"k":0.16,"f":-0.28,"d":0.4},{"t":22.4,"k":-0.22,"f":0.08,"d":-0.2},{"t":22.6,"k":0.26,"f":-0.2,"d":-0.52},{"t":22.8,"k":-0.14,"f":0.3,"d":0.34},
      {"t":23,"k":0.2,"f":-0.1,"d":-0.26},{"t":23.2,"k":-0.28,"f":0.22,"d":0.3},{"t":23.4,"k":0.1,"f":-0.3,"d":-0.44},{"t":23.6,"k":-0.2,"f":0.14,"d":0.22},{"t":23.8,"k":0.3,"f":-0.18,"d":-0.3},
      {"t":24,"k":-0.1,"f":0.26,"d":0.42},{"t":24.2,"k":0.24,"f":-0.24,"d":-0.2},{"t":24.4,"k":-0.26,"f":0.1,"d":0.3},{"t":24.6,"k":0.12,"f":-0.3,"d":-0.46},{"t":24.8,"k":-0.22,"f":0.2,"d":0.24},
      {"t":25,"k":0.18,"f":-0.12,"d":-0.1}
    ],
    "eR": [
      {"t":15,"k":-0.2,"f":0.16,"d":0.3},{"t":15.125,"k":0.16,"f":-0.22,"d":-0.26},{"t":15.25,"k":-0.06,"f":0.2,"d":0.18},{"t":15.375,"k":0.22,"f":-0.1,"d":-0.34},
      {"t":15.5,"k":-0.18,"f":0.06,"d":0.24},{"t":15.625,"k":0.08,"f":-0.24,"d":-0.16},{"t":15.75,"k":-0.24,"f":0.18,"d":0.36},{"t":15.875,"k":0.2,"f":-0.06,"d":-0.3},
      {"t":16,"k":-0.1,"f":0.22,"d":0.08},{"t":16.125,"k":0.18,"f":-0.18,"d":-0.42},{"t":16.25,"k":-0.22,"f":0.1,"d":0.26},{"t":16.375,"k":0.1,"f":-0.2,"d":-0.14},
      {"t":16.5,"k":-0.14,"f":0.24,"d":0.3},{"t":16.625,"k":0.2,"f":-0.08,"d":-0.36},{"t":16.75,"k":-0.28,"f":-0.3,"d":0.2},{"t":16.875,"k":-0.04,"f":0.1,"d":-0.5},
      {"t":17,"k":0.32,"f":0.3,"d":0.16},{"t":17.125,"k":0.4,"f":0.26,"d":-0.2},{"t":17.25,"k":-0.06,"f":-0.1,"d":0.36},{"t":17.375,"k":-0.4,"f":-0.36,"d":-0.3},
      {"t":17.5,"k":-0.26,"f":-0.12,"d":0.1},{"t":17.625,"k":0.2,"f":0.2,"d":-0.38},{"t":17.75,"k":0.5,"f":0.6,"d":0.28},{"t":17.875,"k":0.3,"f":0.2,"d":-0.12},
      {"t":18,"k":-0.4,"f":-0.34,"d":0.24},{"t":18.125,"k":-0.5,"f":-0.4,"d":-0.34},{"t":18.25,"k":-0.1,"f":0.1,"d":0.1},{"t":18.375,"k":0.56,"f":0.5,"d":0.34},
      {"t":18.5,"k":0.7,"f":0.3,"d":-0.08},{"t":18.625,"k":-0.04,"f":-0.24,"d":-0.3},{"t":18.75,"k":-0.76,"f":-0.5,"d":0.2},{"t":18.875,"k":-0.5,"f":-0.14,"d":-0.36},
      {"t":19,"k":0.36,"f":0.5,"d":0.26},{"t":19.125,"k":0.7,"f":0.54,"d":0},{"t":19.25,"k":0.3,"f":-0.02,"d":-0.28},{"t":19.375,"k":-0.64,"f":-0.74,"d":0.16},
      {"t":19.5,"k":-0.86,"f":-0.36,"d":-0.34},{"t":19.625,"k":0.06,"f":0.26,"d":0.3},{"t":19.75,"k":0.8,"f":0.66,"d":-0.1},{"t":19.875,"k":0.76,"f":0.36,"d":0.26},
      {"t":20,"k":-0.34,"f":-0.26,"d":-0.3},{"t":20.125,"k":-1,"f":-0.76,"d":0.12},{"t":20.25,"k":-0.36,"f":0,"d":-0.28},{"t":20.375,"k":0.66,"f":0.7,"d":0.24},
      {"t":20.5,"k":0.86,"f":0.8,"d":0.36},{"t":20.625,"k":0,"f":-0.24,"d":-0.14},{"t":20.75,"k":-0.9,"f":-0.6,"d":0.18},{"t":20.875,"k":-1,"f":-0.26,"d":-0.38},
      {"t":21,"k":0.36,"f":0.46,"d":0.02},{"t":21.125,"k":1,"f":0.76,"d":0.34},{"t":21.25,"k":0.34,"f":0.1,"d":-0.22},{"t":21.375,"k":-0.6,"f":-0.7,"d":0.14},
      {"t":21.5,"k":-0.86,"f":-0.46,"d":-0.36},{"t":21.625,"k":0,"f":0.2,"d":0.22},{"t":21.75,"k":0.9,"f":0.7,"d":-0.08},{"t":21.875,"k":1,"f":0.3,"d":0.3},
      {"t":22,"k":-0.3,"f":-0.4,"d":-0.26},{"t":22.125,"k":-0.72,"f":-0.6,"d":0.1},{"t":22.25,"k":-0.26,"f":0,"d":-0.3},{"t":22.375,"k":0.5,"f":0.5,"d":0.24},
      {"t":22.5,"k":0.7,"f":0.6,"d":-0.04},{"t":22.625,"k":0,"f":-0.16,"d":0.3},{"t":22.75,"k":-0.6,"f":-0.46,"d":-0.34},{"t":22.875,"k":-0.4,"f":-0.26,"d":0.14},
      {"t":23,"k":0.26,"f":0.3,"d":-0.24},{"t":23.125,"k":0.4,"f":0.1,"d":0.32},{"t":23.25,"k":0.3,"f":0.36,"d":-0.1},{"t":23.375,"k":-0.36,"f":-0.2,"d":0.22},
      {"t":23.5,"k":-0.1,"f":-0.4,"d":-0.3},{"t":23.625,"k":0.16,"f":0.2,"d":0.08},{"t":23.75,"k":0.36,"f":0,"d":-0.36},{"t":23.875,"k":0,"f":0.34,"d":0.26},
      {"t":24,"k":-0.26,"f":-0.2,"d":-0.16},{"t":24.125,"k":-0.36,"f":0.1,"d":0.3},{"t":24.25,"k":0.16,"f":-0.3,"d":-0.34},{"t":24.375,"k":0.26,"f":0.2,"d":0.12},
      {"t":24.5,"k":-0.16,"f":0.28,"d":-0.24},{"t":24.625,"k":0.3,"f":-0.2,"d":0.34},{"t":24.75,"k":-0.26,"f":0.16,"d":-0.14},{"t":24.875,"k":0.2,"f":-0.34,"d":0.22},
      {"t":25,"k":-0.2,"f":0.16,"d":-0.3}
    ],
    "fP": [
      {"t":15,"k":-0.3,"f":0.26,"d":-0.4},{"t":15.2,"k":0.3,"f":-0.2,"d":0.74},{"t":15.4,"k":-0.16,"f":0.34,"d":-0.5},{"t":15.6,"k":0.34,"f":-0.3,"d":0.36},{"t":15.8,"k":-0.32,"f":0.12,"d":-0.3},
      {"t":16,"k":0.2,"f":-0.34,"d":0.48},{"t":16.2,"k":-0.1,"f":0.3,"d":-0.56},{"t":16.4,"k":0.3,"f":-0.14,"d":0.66},{"t":16.6,"k":-0.34,"f":0.24,"d":-0.34},{"t":16.8,"k":0.14,"f":-0.32,"d":0.4},
      {"t":17,"k":-0.26,"f":0.34,"d":-0.62},{"t":17.2,"k":0.34,"f":-0.1,"d":0.3},{"t":17.4,"k":-0.2,"f":0.28,"d":-0.7},{"t":17.6,"k":0.26,"f":-0.34,"d":0.44},{"t":17.8,"k":-0.34,"f":0.16,"d":-0.3},
      {"t":18,"k":0.16,"f":-0.26,"d":0.38},{"t":18.2,"k":-0.3,"f":0.34,"d":-0.5},{"t":18.4,"k":0.32,"f":-0.12,"d":0.26},{"t":18.6,"k":-0.12,"f":0.3,"d":-0.44},{"t":18.8,"k":0.28,"f":-0.34,"d":0.5},
      {"t":19,"k":-0.34,"f":0.2,"d":-0.3},{"t":19.2,"k":0.2,"f":-0.28,"d":0.56},{"t":19.4,"k":-0.24,"f":0.34,"d":-0.4},{"t":19.6,"k":0.34,"f":-0.16,"d":0.3},{"t":19.8,"k":-0.16,"f":0.26,"d":-0.5},
      {"t":20,"k":0.3,"f":-0.34,"d":0.4},{"t":20.2,"k":-0.32,"f":0.1,"d":-0.2},{"t":20.4,"k":0.12,"f":-0.3,"d":0.46},{"t":20.6,"k":-0.28,"f":0.32,"d":-0.36},{"t":20.8,"k":0.34,"f":-0.2,"d":0.3},
      {"t":21,"k":-0.2,"f":0.3,"d":-0.56},{"t":21.2,"k":0.26,"f":-0.34,"d":0.24},{"t":21.4,"k":-0.34,"f":0.14,"d":-0.4},{"t":21.6,"k":0.16,"f":-0.26,"d":0.5},{"t":21.8,"k":-0.26,"f":0.34,"d":-0.3},
      {"t":22,"k":0.34,"f":-0.1,"d":0.36},{"t":22.2,"k":-0.1,"f":0.3,"d":-0.62},{"t":22.4,"k":0.3,"f":0.6,"d":0.3},{"t":22.6,"k":-0.34,"f":-0.24,"d":-0.4},{"t":22.8,"k":0.2,"f":0.3,"d":0.44},
      {"t":23,"k":-0.3,"f":-0.34,"d":-0.66},{"t":23.2,"k":0.34,"f":0.16,"d":0.3},{"t":23.4,"k":-0.16,"f":-0.3,"d":-0.36},{"t":23.6,"k":0.26,"f":0.34,"d":0.4},{"t":23.8,"k":-0.34,"f":-0.12,"d":-0.5},
      {"t":24,"k":0.12,"f":0.28,"d":0.26},{"t":24.2,"k":-0.26,"f":-0.34,"d":-0.72},{"t":24.4,"k":0.34,"f":0.2,"d":0.36},{"t":24.6,"k":-0.2,"f":-0.26,"d":-0.3},{"t":24.8,"k":0.3,"f":0.34,"d":0.48},
      {"t":25,"k":-0.14,"f":-0.2,"d":-0.34}
    ],
    "fR": [
      {"t":15,"k":0.24,"f":-0.2,"d":-0.3},{"t":15.125,"k":-0.26,"f":0.26,"d":0.4},{"t":15.25,"k":0.1,"f":-0.28,"d":-0.36},{"t":15.375,"k":-0.3,"f":0.12,"d":0.28},
      {"t":15.5,"k":0.2,"f":-0.06,"d":-0.4},{"t":15.625,"k":-0.1,"f":0.3,"d":0.2},{"t":15.75,"k":0.3,"f":-0.24,"d":0.55},{"t":15.875,"k":-0.24,"f":0.08,"d":-0.34},
      {"t":16,"k":0.14,"f":-0.3,"d":0.3},{"t":16.125,"k":-0.2,"f":0.2,"d":-0.62},{"t":16.25,"k":0.28,"f":-0.12,"d":0.24},{"t":16.375,"k":-0.12,"f":0.26,"d":-0.2},
      {"t":16.5,"k":0.2,"f":-0.26,"d":0.36},{"t":16.625,"k":-0.26,"f":0.1,"d":-0.4},{"t":16.75,"k":-0.36,"f":-0.4,"d":0.3},{"t":16.875,"k":0.04,"f":0.14,"d":-0.46},
      {"t":17,"k":0.36,"f":0.34,"d":0.2},{"t":17.125,"k":0.46,"f":0.3,"d":-0.26},{"t":17.25,"k":-0.1,"f":-0.16,"d":0.44},{"t":17.375,"k":-0.5,"f":-0.46,"d":-0.34},
      {"t":17.5,"k":-0.2,"f":-0.06,"d":0.12},{"t":17.625,"k":0.24,"f":0.26,"d":-0.44},{"t":17.75,"k":0.56,"f":0.6,"d":0.36},{"t":17.875,"k":0.24,"f":0.16,"d":-0.16},
      {"t":18,"k":-0.46,"f":-0.4,"d":0.3},{"t":18.125,"k":-0.7,"f":-0.44,"d":-0.4},{"t":18.25,"k":-0.06,"f":0.16,"d":0.14},{"t":18.375,"k":0.6,"f":0.5,"d":0.42},
      {"t":18.5,"k":0.56,"f":0.3,"d":-0.1},{"t":18.625,"k":-0.1,"f":-0.3,"d":-0.36},{"t":18.75,"k":-0.6,"f":-0.5,"d":0.24},{"t":18.875,"k":-0.44,"f":-0.1,"d":-0.44},
      {"t":19,"k":0.4,"f":0.56,"d":0.3},{"t":19.125,"k":0.86,"f":0.66,"d":0.04},{"t":19.25,"k":0.24,"f":-0.06,"d":-0.34},{"t":19.375,"k":-0.66,"f":-0.76,"d":0.2},
      {"t":19.5,"k":-0.9,"f":-0.3,"d":-0.4},{"t":19.625,"k":0.1,"f":0.3,"d":0.36},{"t":19.75,"k":0.9,"f":0.7,"d":-0.12},{"t":19.875,"k":0.8,"f":0.3,"d":0.3},
      {"t":20,"k":-0.4,"f":-0.3,"d":-0.36},{"t":20.125,"k":-1,"f":-0.6,"d":0.14},{"t":20.25,"k":-0.3,"f":0.04,"d":-0.34},{"t":20.375,"k":0.7,"f":0.76,"d":0.3},
      {"t":20.5,"k":0.86,"f":0.7,"d":0.44},{"t":20.625,"k":-0.06,"f":-0.3,"d":-0.16},{"t":20.75,"k":-0.94,"f":-0.66,"d":0.2},{"t":20.875,"k":-1,"f":-0.2,"d":-0.44},
      {"t":21,"k":0.4,"f":0.5,"d":0.04},{"t":21.125,"k":1,"f":0.8,"d":0.4},{"t":21.25,"k":0.3,"f":0.06,"d":-0.26},{"t":21.375,"k":-0.66,"f":-0.76,"d":0.16},
      {"t":21.5,"k":-0.9,"f":-0.4,"d":-0.42},{"t":21.625,"k":0.06,"f":0.24,"d":0.26},{"t":21.75,"k":0.84,"f":0.76,"d":-0.1},{"t":21.875,"k":0.66,"f":0.3,"d":0.36},
      {"t":22,"k":-0.36,"f":-0.44,"d":-0.3},{"t":22.125,"k":-0.96,"f":-0.66,"d":0.12},{"t":22.25,"k":-0.2,"f":0.04,"d":-0.36},{"t":22.375,"k":0.56,"f":0.56,"d":0.3},
      {"t":22.5,"k":0.64,"f":0.5,"d":-0.06},{"t":22.625,"k":-0.04,"f":-0.2,"d":0.36},{"t":22.75,"k":-0.66,"f":-0.5,"d":-0.4},{"t":22.875,"k":-0.36,"f":-0.2,"d":0.16},
      {"t":23,"k":0.3,"f":0.36,"d":-0.3},{"t":23.125,"k":0.44,"f":0.06,"d":0.4},{"t":23.25,"k":0.24,"f":0.4,"d":-0.14},{"t":23.375,"k":-0.4,"f":-0.26,"d":0.26},
      {"t":23.5,"k":-0.06,"f":-0.44,"d":-0.36},{"t":23.625,"k":0.2,"f":0.24,"d":0.1},{"t":23.75,"k":0.4,"f":-0.04,"d":-0.42},{"t":23.875,"k":-0.04,"f":0.36,"d":0.3},
      {"t":24,"k":-0.3,"f":-0.24,"d":-0.2},{"t":24.125,"k":-0.4,"f":0.14,"d":0.36},{"t":24.25,"k":0.2,"f":-0.36,"d":-0.7},{"t":24.375,"k":0.3,"f":0.24,"d":0.14},
      {"t":24.5,"k":-0.2,"f":0.3,"d":-0.3},{"t":24.625,"k":0.36,"f":-0.24,"d":0.44},{"t":24.75,"k":-0.3,"f":0.2,"d":-0.16},{"t":24.875,"k":0.24,"f":-0.4,"d":0.26},
      {"t":25,"k":-0.26,"f":0.2,"d":-0.36}
    ]
  },
  "config": {
    "font": "Liberation Serif",
    "view": {"stroke": "#808080", "strokeWidth": 0.6},
    "line": {"strokeWidth": 0.9},
    "axis": {"domain": false, "grid": false, "labelFont": "Liberation Serif", "labelFontSize": 7, "labelColor": "#262626", "labelFlush": false, "labelOverlap": false, "labelPadding": 4.5, "titleFont": "Liberation Serif", "titleFontSize": 7.5, "titleFontWeight": "normal", "titleColor": "#262626", "tickColor": "#808080", "tickWidth": 0.6, "tickSize": -2.5},
    "axisX": {"tickCount": 10, "titlePadding": 2},
    "axisY": {"tickCount": 4, "titlePadding": 1},
    "legend": {"orient": "top-right", "offset": 4, "padding": 2, "fillColor": "white", "strokeColor": "#999999", "labelFont": "Liberation Serif", "labelFontSize": 6, "labelColor": "#262626", "labelOffset": 2, "symbolType": "stroke", "symbolSize": 484, "symbolStrokeWidth": 1, "rowPadding": 0.5, "clipHeight": 6.5},
    "title": {"orient": "bottom", "anchor": "middle", "font": "Liberation Serif", "fontSize": 11, "fontWeight": "bold", "color": "black"}
  }
}
